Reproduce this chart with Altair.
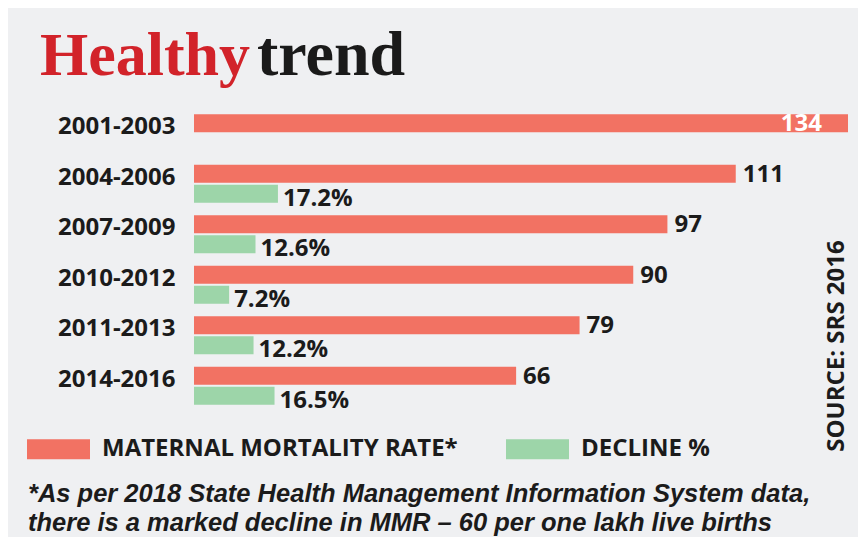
import altair as alt
import pandas as pd

# ---- data ----
periods = ["2001-2003", "2004-2006", "2007-2009", "2010-2012", "2011-2013", "2014-2016"]
mmr = [134, 111, 97, 90, 79, 66]
decline = [None, 17.2, 12.6, 7.2, 12.2, 16.5]
series_names = ["MATERNAL MORTALITY RATE*", "DECLINE %"]
series_colors = ["#f27263", "#9dd5a9"]

title_words = ["Healthy", "trend"]
source_text = ["SOURCE: SRS 2016"]
footnote_lines = [
    "*As per 2018 State Health Management Information System data,",
    "there is a marked decline in MMR \u2013 60 per one lakh live births",
]

rows = []
for p, m, d in zip(periods, mmr, decline):
    rows.append({"period": p, "series": series_names[0], "value": m, "label": str(m)})
    if d is not None:
        rows.append({"period": p, "series": series_names[1], "value": d, "label": f"{d}%"})
df = pd.DataFrame(rows)

FONT = "Open Sans"
TXT = "#1b1b1b"
BG = "#eff0f2"

y_enc = alt.Y(
    "period:N",
    sort=periods,
    scale=alt.Scale(paddingInner=0.2475, paddingOuter=0.124),
    axis=alt.Axis(
        title=None, domain=False, ticks=False, tickSize=0, labelPadding=19,
        labelOffset=-6, labelFont=FONT, labelFontSize=24, labelFontWeight="bold",
        labelColor=TXT, grid=False,
    ),
)
yoff = alt.YOffset("series:N", sort=series_names, scale=alt.Scale(paddingInner=0.1, paddingOuter=0))
x_enc = alt.X("value:Q", scale=alt.Scale(domain=[0, 134], nice=False, zero=True), axis=None)

base = alt.Chart(df).encode(y=y_enc, yOffset=yoff, x=x_enc)

bars = base.mark_bar(cornerRadius=0).encode(
    color=alt.Color(
        "series:N",
        sort=series_names,
        scale=alt.Scale(domain=series_names, range=series_colors),
        legend=alt.Legend(
            title=None, orient="none", legendX=-167, legendY=309.5, direction="horizontal",
            symbolType="M-1,-0.317L1,-0.317L1,0.317L-1,0.317Z", symbolSize=3969,
            symbolStrokeWidth=0, symbolOpacity=1, labelOffset=12, columnPadding=48,
            labelFont=FONT, labelFontSize=24, labelFontWeight="bold", labelColor=TXT,
            padding=0, labelLimit=600,
        ),
    )
)

mmr_labels = base.transform_filter(
    (alt.datum.series == series_names[0]) & (alt.datum.value < 134)
).mark_text(
    align="left", baseline="middle", dx=7, dy=1, font=FONT, fontSize=24,
    fontWeight="bold", color=TXT,
).encode(text="label:N")

top_label = base.transform_filter(
    (alt.datum.series == series_names[0]) & (alt.datum.value >= 134)
).mark_text(
    align="right", baseline="middle", dx=-26, dy=1, font=FONT, fontSize=24,
    fontWeight="bold", color="white",
).encode(text="label:N")

dec_labels = base.transform_filter(alt.datum.series == series_names[1]).mark_text(
    align="left", baseline="middle", dx=5, dy=5, font=FONT, fontSize=24,
    fontWeight="bold", color=TXT,
).encode(text="label:N")

title1 = alt.Chart(pd.DataFrame({"t": [title_words[0]]})).mark_text(
    align="left", baseline="alphabetic", font="Liberation Serif", fontSize=62,
    fontWeight="bold", color="#d2232a",
).encode(text="t:N", x=alt.value(-154), y=alt.value(-33))

title2 = alt.Chart(pd.DataFrame({"t": [title_words[1]]})).mark_text(
    align="left", baseline="alphabetic", font="Liberation Serif", fontSize=64,
    fontWeight="bold", color="#1a1a1a",
).encode(text="t:N", x=alt.value(63), y=alt.value(-33))

source = alt.Chart(pd.DataFrame({"t": source_text})).mark_text(
    align="center", baseline="middle", angle=270, font=FONT, fontSize=24,
    fontWeight="bold", color=TXT,
).encode(text="t:N", x=alt.value(642.5), y=alt.value(238))

foot = alt.Chart(pd.DataFrame({"t": ["\n".join(footnote_lines)]})).mark_text(
    align="left", baseline="alphabetic", font="Liberation Sans", fontSize=25.5,
    fontStyle="italic", fontWeight=600, color=TXT, lineBreak="\n", lineHeight=29,
).encode(text="t:N", x=alt.value(-166), y=alt.value(394))

chart = alt.layer(bars, mmr_labels, top_label, dec_labels, title1, title2, source, foot).properties(
    width=654,
    height=303,
    padding={"left": 186, "top": 100, "right": 10, "bottom": 126},
    autosize=alt.AutoSizeParams(type="none"),
    background=BG,
).configure_view(stroke=None)

chart.save("out.html", embed_options={"renderer": "svg", "actions": False})
